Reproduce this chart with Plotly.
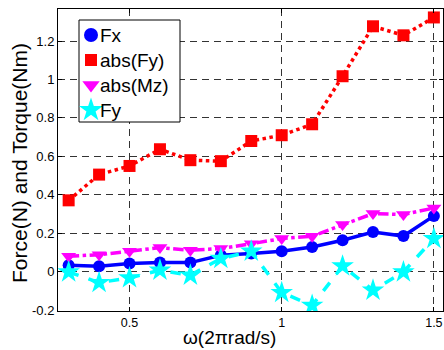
import plotly.graph_objects as go

omega = [0.3, 0.4, 0.5, 0.6, 0.7, 0.8, 0.9, 1.0, 1.1, 1.2, 1.3, 1.4, 1.5]
fx = [0.033, 0.028, 0.042, 0.047, 0.047, 0.085, 0.094, 0.106, 0.128, 0.163, 0.206, 0.185, 0.29]
abs_fy = [0.371, 0.505, 0.55, 0.637, 0.58, 0.575, 0.68, 0.71, 0.767, 1.017, 1.277, 1.23, 1.323]
abs_mz = [0.08, 0.088, 0.106, 0.125, 0.111, 0.12, 0.145, 0.172, 0.184, 0.245, 0.302, 0.297, 0.331]
fy = [-0.002, -0.057, -0.033, 0.007, -0.019, 0.068, 0.106, -0.109, -0.176, 0.029, -0.097, -0.002, 0.172]

series_names = ["Fx", "abs(Fy)", "abs(Mz)", "Fy"]
x_ticks = [0.5, 1, 1.5]
x_tick_labels = ["0.5", "1", "1.5"]
y_ticks = [-0.2, 0, 0.2, 0.4, 0.6, 0.8, 1.0, 1.2]
y_tick_labels = ["-0.2", "0", "0.2", "0.4", "0.6", "0.8", "1", "1.2"]

FONT = "Liberation Sans, Arial, sans-serif"
W, H = 444, 350
L, R, T, B = 58, 1, 9, 39
PW, PH = W - L - R, H - T - B

styles = [
    dict(color="#0000ff", dash="solid", symbol="circle", size=12, lsize=14),
    dict(color="#ff0000", dash="dot", symbol="square", size=12, lsize=12),
    dict(color="#ff00ff", dash="dashdot", symbol="triangle-down", size=13, lsize=15),
    dict(color="#00ffff", dash="dash", symbol="star", size=17, lsize=18),
]
values = [fx, abs_fy, abs_mz, fy]

fig = go.Figure()
for name, vals, st in zip(series_names, values, styles):
    fig.add_trace(go.Scatter(
        x=omega, y=vals, mode="lines+markers", name=name, showlegend=False,
        line=dict(color=st["color"], width=3.5, dash=st["dash"]),
        marker=dict(symbol=st["symbol"], size=st["size"], color=st["color"], line=dict(width=0)),
    ))

# hand-made legend on an overlay axis measured in pixels of the plot area
box_x0, box_x1, box_y0, box_y1 = 79, 180, 20, 122
row_y = [35, 60, 85, 110]
mark_x = 91
text_x = 98
fig.add_trace(go.Scatter(
    x=[box_x0 - L, box_x1 - L, box_x1 - L, box_x0 - L, box_x0 - L],
    y=[box_y0 - T, box_y0 - T, box_y1 - T, box_y1 - T, box_y0 - T],
    xaxis="x2", yaxis="y2", mode="lines", fill="toself", fillcolor="white",
    line=dict(color="black", width=1), showlegend=False, hoverinfo="skip",
))
for name, st, ry in zip(series_names, styles, row_y):
    fig.add_trace(go.Scatter(
        x=[mark_x - L], y=[ry - T], xaxis="x2", yaxis="y2", mode="markers",
        showlegend=False, hoverinfo="skip", cliponaxis=False,
        marker=dict(symbol=st["symbol"], size=st["lsize"], color=st["color"], line=dict(width=0)),
    ))
    fig.add_annotation(x=text_x - L, y=ry - T, xref="x2", yref="y2", text=name,
                       showarrow=False, xanchor="left", yanchor="middle",
                       font=dict(family=FONT, size=19, color="black"))

axis_common = dict(
    showline=True, linecolor="black", linewidth=1, mirror="ticks",
    ticks="inside", ticklen=4, tickcolor="black",
    showgrid=True, gridcolor="#333333", griddash="7px,5px", gridwidth=1,
    zeroline=False,
)

fig.update_xaxes(range=[0.265, 1.53], tickvals=x_ticks, ticktext=x_tick_labels,
                 tickfont=dict(family=FONT, size=12.5, color="black"), **axis_common)
fig.update_yaxes(range=[-0.205, 1.367], tickvals=y_ticks, ticktext=y_tick_labels,
                 tickfont=dict(family=FONT, size=13, color="black"), **axis_common)

fig.update_layout(
    xaxis2=dict(overlaying="x", range=[0, PW], visible=False, fixedrange=True),
    yaxis2=dict(overlaying="y", range=[PH, 0], visible=False, fixedrange=True),
)

# axis titles placed where the reference has them
fig.add_annotation(x=(229 - L) / PW, y=1 - (338 - T) / PH, xref="paper", yref="paper",
                   text="ω(2πrad/s)", showarrow=False, xanchor="center", yanchor="middle",
                   borderpad=0, font=dict(family=FONT, size=19, color="black"))
fig.add_annotation(x=(19 - L) / PW, y=1 - (163 - T) / PH, xref="paper", yref="paper",
                   text="Force(N) and Torque(Nm)", showarrow=False, textangle=-90,
                   xanchor="center", yanchor="middle",
                   font=dict(family=FONT, size=21, color="black"))

fig.update_layout(
    width=W, height=H,
    margin=dict(l=L, r=R, t=T, b=B),
    paper_bgcolor="white", plot_bgcolor="white",
    showlegend=False,
)

fig.write_html("out.html", config={"displayModeBar": False},
               post_script="document.body.style.margin='0';")
